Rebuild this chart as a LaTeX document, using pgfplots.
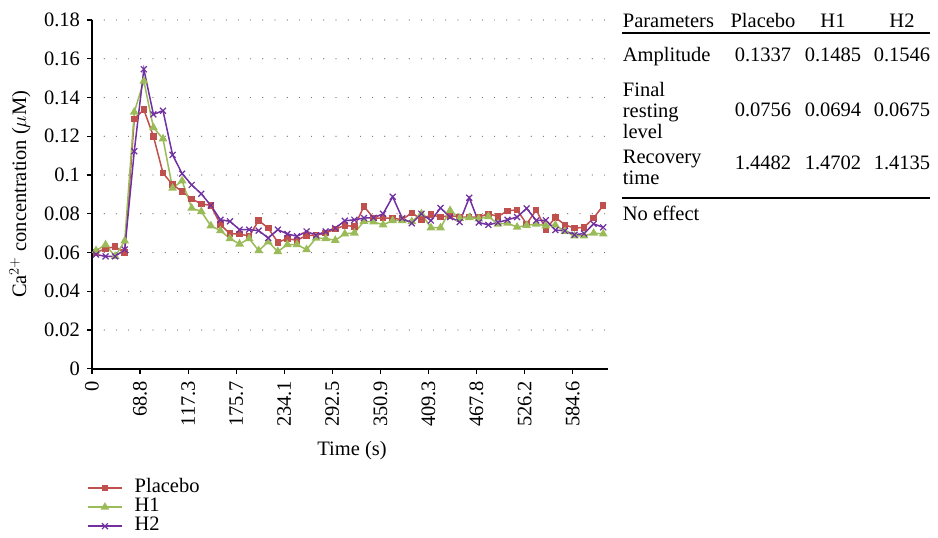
\documentclass[border=0pt]{standalone}
\usepackage{fontspec}
\setmainfont{Liberation Serif}
\usepackage{pgfplots}
\pgfplotsset{compat=1.18}
\definecolor{cPla}{RGB}{192,80,77}
\definecolor{cHa}{RGB}{155,187,89}
\definecolor{cHb}{RGB}{112,48,160}

\begin{document}
\fontsize{20.5}{24}\selectfont
\begin{tikzpicture}
\useasboundingbox (-92pt,-169.2pt) rectangle (846pt,368.8pt);
\begin{axis}[
  at={(0pt,0pt)}, anchor=south west,
  scale only axis, width=516pt, height=348.8pt,
  xmin=-0.418, xmax=53.5, ymin=0, ymax=0.18,
  axis x line*=bottom, axis y line*=left,
  axis line style={line width=1.6pt,-},
  tick align=outside, major tick length=5pt,
  tick style={black, line width=1.2pt},
  xtick={-0.418,4.605,9.628,14.651,19.674,24.697,29.72,34.743,39.766,44.789,49.812},
  xticklabels={0,68.8,117.3,175.7,234.1,292.5,350.9,409.3,467.8,526.2,584.6},
  x tick label style={rotate=90, anchor=east},
  ytick={0,0.02,0.04,0.06,0.08,0.1,0.12,0.14,0.16,0.18},
  yticklabels={0,0.02,0.04,0.06,0.08,0.1,0.12,0.14,0.16,0.18},
  ymajorgrids,
  major grid style={black!60, line width=1.2pt, line cap=round, dash pattern=on 0pt off 12.2pt},
  xlabel={Time (s)},
  xlabel style={at={(axis description cs:0.504,-0.233)}, anchor=center},
  ylabel={Ca$^{2+}$ concentration ($\mu$M)},
  ylabel style={at={(axis description cs:-0.1395,0.5)}, anchor=center},
  legend cell align=left,
  legend style={at={(axis description cs:-0.0097,-0.3145)}, anchor=north west,
    draw=none, fill=none, inner sep=0pt, row sep=0pt, column sep=12pt,
    nodes={inner sep=0pt, text height=14pt, text depth=5pt}},
  legend image code/.code={\draw[mark repeat=2,mark phase=2,#1] plot coordinates {(0pt,0pt) (17pt,0pt) (34pt,0pt)};},
]
% Placebo
\addplot[color=cPla, line width=1.5pt, mark=square*, mark size=2.5pt, mark options={fill=cPla}] coordinates {
(0,0.060)(1,0.062)(2,0.063)(3,0.060)(4,0.129)(5,0.1337)(6,0.120)(7,0.101)(8,0.095)(9,0.0915)
(10,0.0877)(11,0.0851)(12,0.0843)(13,0.0744)(14,0.0697)(15,0.0696)(16,0.0685)(17,0.0765)(18,0.0726)(19,0.0653)
(20,0.0672)(21,0.0663)(22,0.0689)(23,0.0689)(24,0.0701)(25,0.0721)(26,0.074)(27,0.0735)(28,0.0838)(29,0.0778)
(30,0.0777)(31,0.0777)(32,0.077)(33,0.0805)(34,0.077)(35,0.0795)(36,0.0783)(37,0.0791)(38,0.0783)(39,0.0783)
(40,0.0783)(41,0.080)(42,0.0786)(43,0.0815)(44,0.082)(45,0.0747)(46,0.082)(47,0.072)(48,0.0781)(49,0.0743)
(50,0.0726)(51,0.073)(52,0.0778)(53,0.0843)};
\addlegendentry{Placebo}
% H1
\addplot[color=cHa, line width=1.5pt, mark=triangle*, mark size=3.6pt, mark options={fill=cHa}] coordinates {
(0,0.061)(1,0.064)(2,0.058)(3,0.066)(4,0.1325)(5,0.1485)(6,0.1245)(7,0.1187)(8,0.0932)(9,0.097)
(10,0.0829)(11,0.0812)(12,0.0738)(13,0.0713)(14,0.0672)(15,0.0644)(16,0.0672)(17,0.061)(18,0.0655)(19,0.0605)
(20,0.0641)(21,0.0641)(22,0.0615)(23,0.0675)(24,0.0672)(25,0.0663)(26,0.0697)(27,0.0701)(28,0.0761)(29,0.0758)
(30,0.0743)(31,0.0765)(32,0.0765)(33,0.076)(34,0.080)(35,0.0728)(36,0.0728)(37,0.0817)(38,0.0777)(39,0.0781)
(40,0.0774)(41,0.0786)(42,0.0747)(43,0.0752)(44,0.0731)(45,0.074)(46,0.0747)(47,0.0738)(48,0.0742)(49,0.0709)
(50,0.0686)(51,0.0686)(52,0.070)(53,0.0696)};
\addlegendentry{H1}
% H2
\addplot[color=cHb, line width=1.5pt, mark=x, mark size=4.2pt, mark options={line width=1.2pt}] coordinates {
(0,0.059)(1,0.058)(2,0.058)(3,0.0615)(4,0.1123)(5,0.1546)(6,0.1313)(7,0.1332)(8,0.1104)(9,0.1007)
(10,0.0949)(11,0.0903)(12,0.0843)(13,0.0769)(14,0.0761)(15,0.0718)(16,0.0718)(17,0.0713)(18,0.0675)(19,0.0718)
(20,0.0696)(21,0.0684)(22,0.0709)(23,0.0689)(24,0.0709)(25,0.0726)(26,0.0764)(27,0.0769)(28,0.0778)(29,0.0779)
(30,0.080)(31,0.0888)(32,0.0777)(33,0.0751)(34,0.080)(35,0.0765)(36,0.083)(37,0.0783)(38,0.0757)(39,0.0883)
(40,0.0755)(41,0.0743)(42,0.0755)(43,0.0769)(44,0.0783)(45,0.0828)(46,0.0765)(47,0.0767)(48,0.0716)(49,0.0712)
(50,0.0692)(51,0.0698)(52,0.0748)(53,0.073)};
\addlegendentry{H2}
\end{axis}
% parameter table, positions in reference pixels
\begin{scope}[xshift=-92pt, yshift=368.8pt, x=1pt, y=-1pt, every node/.style={inner sep=0pt}]
\node[anchor=base west] at (622.7,28) {Parameters};
\node[anchor=base] at (763,28) {Placebo};
\node[anchor=base] at (833,28) {H1};
\node[anchor=base] at (902,28) {H2};
\draw[line width=1.6pt] (622,33.3) -- (930,33.3);
\node[anchor=base west] at (622.7,62) {Amplitude};
\node[anchor=base] at (763,62) {0.1337};
\node[anchor=base] at (833,62) {0.1485};
\node[anchor=base] at (902,62) {0.1546};
\node[anchor=base west] at (622.7,97) {Final};
\node[anchor=base west] at (622.7,118) {resting};
\node[anchor=base west] at (622.7,139) {level};
\node[anchor=base] at (763,117) {0.0756};
\node[anchor=base] at (833,117) {0.0694};
\node[anchor=base] at (902,117) {0.0675};
\node[anchor=base west] at (622.7,164) {Recovery};
\node[anchor=base west] at (622.7,185) {time};
\node[anchor=base] at (763,170) {1.4482};
\node[anchor=base] at (833,170) {1.4702};
\node[anchor=base] at (902,170) {1.4135};
\draw[line width=1.6pt] (622,198.3) -- (930,198.3);
\node[anchor=base west] at (622.7,221) {No effect};
\end{scope}
\end{tikzpicture}
\end{document}
